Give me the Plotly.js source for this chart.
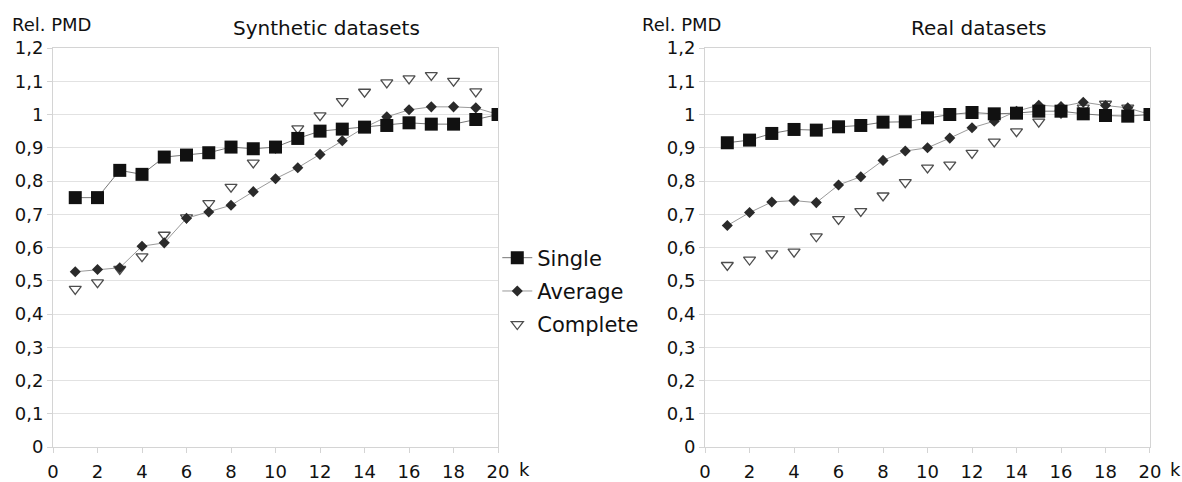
<!DOCTYPE html>
<html>
<head>
<meta charset="utf-8">
<script src="https://cdn.plot.ly/plotly-3.0.1.min.js"></script>
<style>
  html, body { margin: 0; padding: 0; background: #ffffff; }
  #chart { width: 1182px; height: 482px; }
</style>
</head>
<body>
<div id="chart"></div>
<script>
// ---- data ----
const kValues = [1, 2, 3, 4, 5, 6, 7, 8, 9, 10, 11, 12, 13, 14, 15, 16, 17, 18, 19, 20];

const synSingle   = [0.75, 0.75, 0.832, 0.82, 0.872, 0.878, 0.885, 0.902, 0.897, 0.902, 0.928, 0.95, 0.956, 0.962, 0.967, 0.975, 0.971, 0.971, 0.985, 1.0];
const synAverage  = [0.527, 0.534, 0.539, 0.604, 0.614, 0.688, 0.707, 0.727, 0.768, 0.807, 0.84, 0.88, 0.921, 0.961, 0.993, 1.014, 1.023, 1.023, 1.02, 1.0];
const synComplete = [0.475, 0.495, 0.535, 0.573, 0.638, 0.69, 0.733, 0.782, 0.855, 0.9, 0.958, 0.997, 1.04, 1.068, 1.096, 1.108, 1.118, 1.101, 1.069, 1.0];

const realSingle   = [0.915, 0.923, 0.943, 0.955, 0.953, 0.963, 0.967, 0.977, 0.978, 0.99, 1.0, 1.006, 1.002, 1.004, 1.01, 1.01, 1.002, 0.997, 0.995, 1.0];
const realAverage  = [0.666, 0.705, 0.737, 0.741, 0.735, 0.788, 0.813, 0.862, 0.89, 0.9, 0.929, 0.96, 0.98, 1.01, 1.028, 1.024, 1.037, 1.027, 1.02, 1.0];
const realComplete = [0.547, 0.563, 0.582, 0.587, 0.633, 0.685, 0.709, 0.756, 0.796, 0.84, 0.849, 0.884, 0.918, 0.949, 0.978, 1.005, 1.02, 1.032, 1.02, 1.0];

const seriesNames = ["Single", "Average", "Complete"];
const panelTitles = ["Synthetic datasets", "Real datasets"];
const yAxisLabel = "Rel. PMD";
const xAxisLabel = "k";

const yTickVals = [0, 0.1, 0.2, 0.3, 0.4, 0.5, 0.6, 0.7, 0.8, 0.9, 1, 1.1, 1.2];
const yTickText = ["0", "0,1", "0,2", "0,3", "0,4", "0,5", "0,6", "0,7", "0,8", "0,9", "1", "1,1", "1,2"];
const xTickVals = [0, 2, 4, 6, 8, 10, 12, 14, 16, 18, 20];
const xTickText = ["0", "2", "4", "6", "8", "10", "12", "14", "16", "18", "20"];

// ---- styles ----
const FONT = "DejaVu Sans, Liberation Sans, Arial, sans-serif";
const TXT = "#111111";
const styles = {
  Single:   { mode: "lines+markers", marker: { symbol: "square", size: 13, color: "#111111" }, line: { color: "#777777", width: 1 } },
  Average:  { mode: "lines+markers", marker: { symbol: "diamond", size: 8.5, color: "#2a2a2a" }, line: { color: "#9a9a9a", width: 1 } },
  Complete: { mode: "markers", marker: { symbol: "triangle-down", size: 10.5, color: "#ffffff", line: { color: "#4d4d4d", width: 1.3 } } }
};
const rank = { Single: 1, Average: 2, Complete: 3 };

function makeTrace(name, yvals, xa, ya, show) {
  const s = styles[name];
  const t = {
    type: "scatter", x: kValues, y: yvals, name: name, mode: s.mode,
    marker: s.marker, xaxis: xa, yaxis: ya, showlegend: show,
    legendgroup: name, legendrank: rank[name], hoverinfo: "x+y"
  };
  if (s.line) t.line = s.line;
  return t;
}

const data = [
  makeTrace("Complete", synComplete, "x", "y", true),
  makeTrace("Average", synAverage, "x", "y", true),
  makeTrace("Single", synSingle, "x", "y", true),
  makeTrace("Complete", realComplete, "x2", "y2", false),
  makeTrace("Average", realAverage, "x2", "y2", false),
  makeTrace("Single", realSingle, "x2", "y2", false)
];

const gridColor = "#e2e2e2";
const boxColor = "#d4d4d4";
function xAxis(domain, anchor) {
  return {
    domain: domain, anchor: anchor, range: [0, 20],
    tickmode: "array", tickvals: xTickVals, ticktext: xTickText,
    ticks: "outside", ticklen: 5, tickcolor: boxColor, ticklabelstandoff: 3,
    showgrid: false, zeroline: false,
    showline: true, linecolor: boxColor, linewidth: 1, mirror: true,
    tickfont: { family: FONT, size: 18, color: TXT }, fixedrange: true
  };
}
function yAxis(anchor) {
  return {
    domain: [0, 1], anchor: anchor, range: [0, 1.2],
    tickmode: "array", tickvals: yTickVals, ticktext: yTickText,
    ticks: "outside", ticklen: 5, tickcolor: boxColor,
    showgrid: true, gridcolor: gridColor, gridwidth: 1, zeroline: false,
    showline: true, linecolor: boxColor, linewidth: 1, mirror: true,
    tickfont: { family: FONT, size: 18, color: TXT }, fixedrange: true
  };
}

const layout = {
  width: 1182, height: 482,
  margin: { l: 53, r: 32, t: 48, b: 35 },
  paper_bgcolor: "#ffffff", plot_bgcolor: "#ffffff",
  font: { family: FONT, color: TXT },
  showlegend: true,
  xaxis: xAxis([0, 0.4057], "y"),
  yaxis: yAxis("x"),
  xaxis2: xAxis([0.5944, 1], "y2"),
  yaxis2: yAxis("x2"),
  legend: {
    x: 0.405, xanchor: "left", y: 0.525, yanchor: "top",
    traceorder: "grouped", tracegroupgap: 3,
    font: { family: FONT, size: 21, color: TXT },
    bgcolor: "rgba(0,0,0,0)", itemclick: false, itemdoubleclick: false
  },
  annotations: [
    { text: panelTitles[0], xref: "paper", yref: "paper", x: (326 - 53) / 1097, y: (447 - 28) / 399, xanchor: "center", yanchor: "middle", showarrow: false, font: { family: FONT, size: 20, color: TXT } },
    { text: panelTitles[1], xref: "paper", yref: "paper", x: (979 - 53) / 1097, y: (447 - 28) / 399, xanchor: "center", yanchor: "middle", showarrow: false, font: { family: FONT, size: 20, color: TXT } },
    { text: yAxisLabel, xref: "paper", yref: "paper", x: (10 - 53) / 1097, y: (447 - 25) / 399, xanchor: "left", yanchor: "middle", showarrow: false, font: { family: FONT, size: 18, color: TXT } },
    { text: yAxisLabel, xref: "paper", yref: "paper", x: (640 - 53) / 1097, y: (447 - 25) / 399, xanchor: "left", yanchor: "middle", showarrow: false, font: { family: FONT, size: 18, color: TXT } },
    { text: xAxisLabel, xref: "paper", yref: "paper", x: (524 - 53) / 1097, y: (447 - 469) / 399, xanchor: "center", yanchor: "middle", showarrow: false, font: { family: FONT, size: 18, color: TXT } },
    { text: xAxisLabel, xref: "paper", yref: "paper", x: (1175 - 53) / 1097, y: (447 - 469) / 399, xanchor: "center", yanchor: "middle", showarrow: false, font: { family: FONT, size: 18, color: TXT } }
  ]
};

Plotly.newPlot("chart", data, layout, { displayModeBar: false, staticPlot: true });
</script>
</body>
</html>
